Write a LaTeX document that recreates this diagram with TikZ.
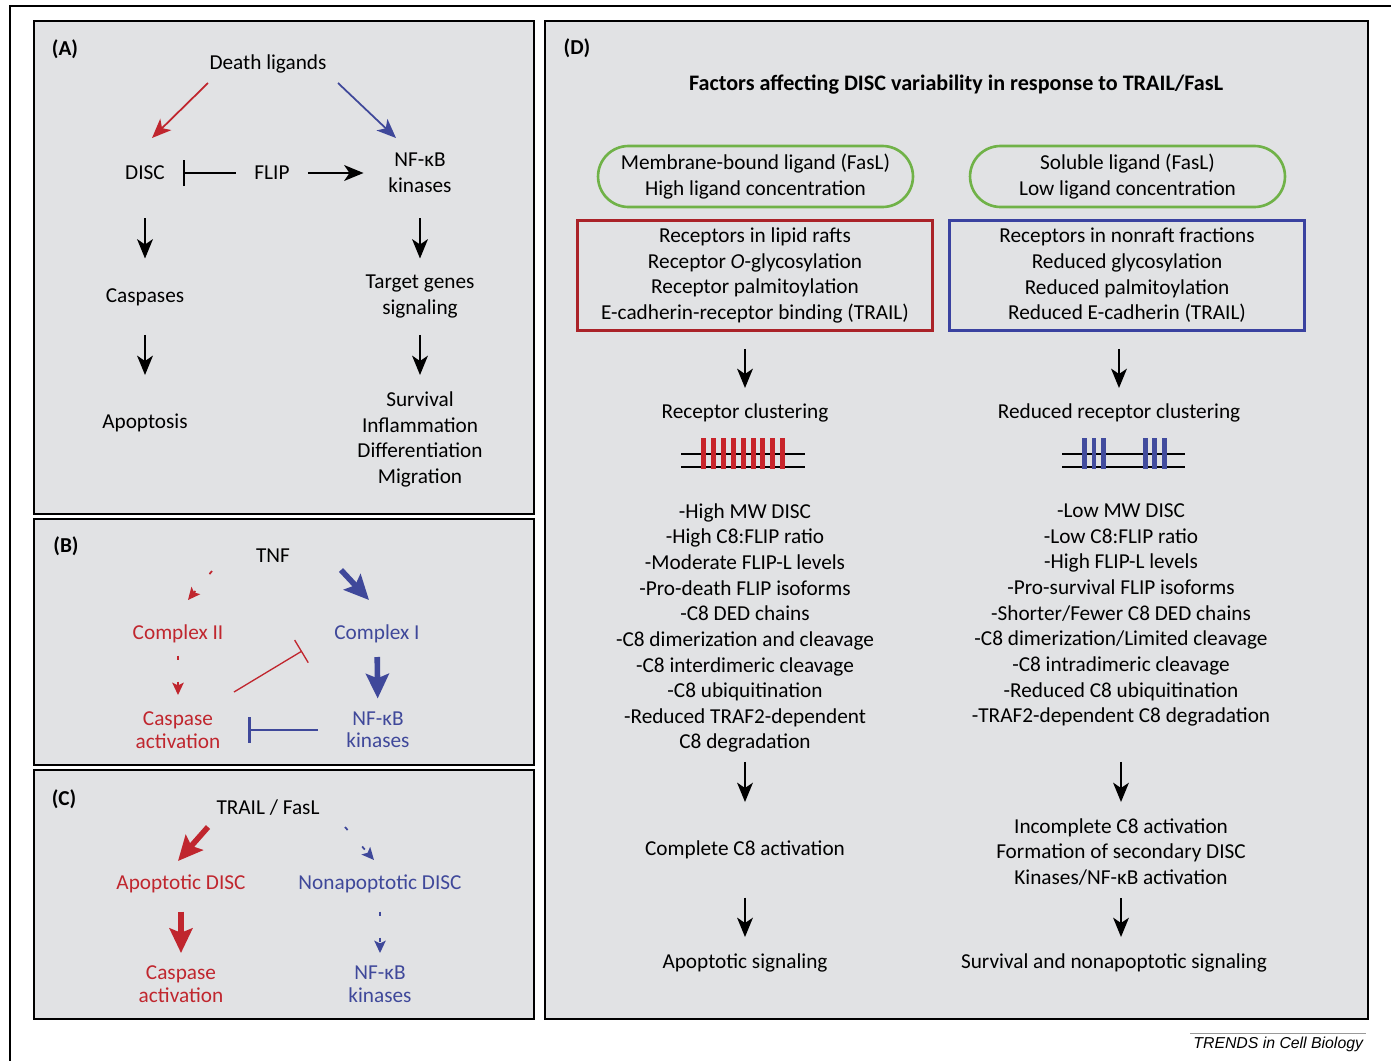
\documentclass[tikz,border=0pt]{standalone}
\usepackage{fontspec}
\setmainfont{Carlito}
\newfontfamily\creditfont{Liberation Sans}
\usetikzlibrary{arrows.meta,shapes.misc}
\definecolor{panelgray}{RGB}{225,226,228}
\definecolor{sigred}{RGB}{192,38,46}
\definecolor{sigblue}{RGB}{63,72,154}
\definecolor{boxred}{RGB}{170,34,40}
\definecolor{boxblue}{RGB}{58,66,160}
\definecolor{barred}{RGB}{200,36,42}
\definecolor{barblue}{RGB}{66,76,158}
\definecolor{liggreen}{RGB}{112,178,72}

\begin{document}
\begin{tikzpicture}[x=0.02cm,y=-0.02cm]
\tikzset{
  labelnode/.style={align=center,inner sep=0pt,font=\fontsize{12.1}{14.6}\selectfont},
  tightnode/.style={labelnode,font=\fontsize{12.1}{12.8}\selectfont},
  tagnode/.style={labelnode,font=\fontsize{12.1}{14.6}\selectfont\bfseries},
  titlenode/.style={labelnode,font=\fontsize{12.6}{14.6}\selectfont\bfseries},
  creditnode/.style={inner sep=1.5pt,font=\creditfont\itshape\fontsize{9}{10}\selectfont},
  panelbox/.style={draw=black,line width=1.6pt,fill=panelgray},
  factorbox/.style={labelnode,draw,line width=1.5pt,minimum width=7.1cm,minimum height=2.2cm},
  ligandbox/.style={labelnode,rounded rectangle,draw=liggreen,line width=1.5pt,minimum width=6.3cm,minimum height=1.22cm},
  graphedge/.style={draw,line width=1pt,line cap=butt},
  directed/.style={graphedge,-{Stealth[length=11pt,width=9pt,inset=3pt]}},
  bigdirected/.style={draw,line width=3.2pt,-{Stealth[length=14pt,width=13pt,inset=2.5pt]}},
  weakdirected/.style={graphedge,dash pattern=on 0.08cm off 0.44cm,-{Stealth[length=7pt,width=6.5pt,inset=1.5pt]}},
  inhibits/.style={draw,-{Bar[width=15pt]}},
  clearance/.style 2 args={shorten <=#1,shorten >=#2}
}
\useasboundingbox (0,0) rectangle (1391,1061);
\draw[line width=0.7pt] (1391,6) -- (10,6) -- (10,1061);
\draw[panelbox] (34,21) rectangle (534,514);
\draw[panelbox] (34,519) rectangle (534,765);
\draw[panelbox] (34,770) rectangle (534,1019);
\draw[panelbox] (545,21) rectangle (1368,1019);

% (A)
\node[tagnode] (n_tagA) at (65,49) {(A)};
\node[labelnode] (n_death) at (268,64) {Death ligands};
\node[labelnode] (n_disc) at (145,173) {DISC};
\node[labelnode] (n_flip) at (272,173) {FLIP};
\node[labelnode] (n_nfA) at (420,173) {NF-κB\\kinases};
\node[labelnode] (n_casp) at (145,297) {Caspases};
\node[labelnode] (n_apop) at (145,423) {Apoptosis};
\node[labelnode] (n_genes) at (420,296.5) {Target genes\\signaling};
\node[labelnode] (n_fates) at (420,439.5) {Survival\\Inflammation\\Differentiation\\Migration};
\draw[directed,draw=sigred] ([shift={(-60,19)}]n_death.center) -- ([shift={(7,-35)}]n_disc.center);
\draw[directed,draw=sigblue] ([shift={(70,19)}]n_death.center) -- ([shift={(-24,-35)}]n_nfA.center);
\draw[inhibits,line width=1.1pt,clearance={0.73cm}{0.76cm}] (n_flip.center) -- (n_disc.center);
\draw[directed,clearance={0.72cm}{1.13cm}] (n_flip.center) -- (n_nfA.center);
\draw[directed,clearance={0.91cm}{0.77cm}] (n_disc.center) -- (n_casp.center);
\draw[directed,clearance={0.76cm}{0.96cm}] (n_casp.center) -- (n_apop.center);
\draw[directed,clearance={0.91cm}{0.76cm}] (n_nfA.center) -- (n_genes.center);
\draw[directed,clearance={0.77cm}{1.29cm}] (n_genes.center) -- (n_fates.center);

% (B)
\node[tagnode] (n_tagB) at (66,546) {(B)};
\node[labelnode] (n_tnf) at (273,556) {TNF};
\node[labelnode,text=sigred] (n_cplx2) at (178,634) {Complex II};
\node[labelnode,text=sigblue] (n_cplx1) at (377,634) {Complex I};
\node[tightnode,text=sigred] (n_caspB) at (178,730) {Caspase\\activation};
\node[tightnode,text=sigblue] (n_nfB) at (378,730) {NF-κB\\kinases};
\draw[weakdirected,draw=sigred] ([shift={(-61,15)}]n_tnf.center) -- ([shift={(10,-34)}]n_cplx2.center);
\draw[bigdirected,draw=sigblue] ([shift={(68,14)}]n_tnf.center) -- ([shift={(-8,-34)}]n_cplx1.center);
\draw[weakdirected,draw=sigred,clearance={0.43cm}{0.7cm}] (n_cplx2.center) -- (n_caspB.center);
\draw[bigdirected,draw=sigblue,clearance={0.46cm}{0.63cm}] (n_cplx1.center) -- (n_nfB.center);
\draw[inhibits,draw=sigred,line width=0.75pt] ([shift={(56,-38)}]n_caspB.center) -- ([shift={(-75,17)}]n_cplx1.center);
\draw[inhibits,draw=sigblue,line width=1.5pt,-{Bar[width=14.7pt]},clearance={1.21cm}{1.4cm}] (n_nfB.center) -- (n_caspB.center);

% (C)
\node[tagnode] (n_tagC) at (64,799) {(C)};
\node[labelnode] (n_trail) at (268,808) {TRAIL / FasL};
\node[labelnode,text=sigred] (n_apoDisc) at (181,884) {Apoptotic DISC};
\node[labelnode,text=sigblue] (n_nonDisc) at (380,884) {Nonapoptotic DISC};
\node[tightnode,text=sigred] (n_caspC) at (181,984) {Caspase\\activation};
\node[tightnode,text=sigblue] (n_nfC) at (380,984) {NF-κB\\kinases};
\draw[bigdirected,draw=sigred] ([shift={(-60,19)}]n_trail.center) -- ([shift={(-3,-23)}]n_apoDisc.center);
\draw[weakdirected,draw=sigblue] ([shift={(77,19)}]n_trail.center) -- ([shift={(-6,-24)}]n_nonDisc.center);
\draw[bigdirected,draw=sigred,clearance={0.55cm}{0.62cm}] (n_apoDisc.center) -- (n_caspC.center);
\draw[weakdirected,draw=sigblue,clearance={0.55cm}{0.62cm}] (n_nonDisc.center) -- (n_nfC.center);

% (D)
\node[tagnode] (n_tagD) at (577,48) {(D)};
\node[titlenode] (n_title) at (956,85) {Factors affecting DISC variability in response to TRAIL/FasL};
\node[ligandbox] (n_ligMem) at (755.5,176.5) {Membrane-bound ligand (FasL)\\High ligand concentration};
\node[ligandbox] (n_ligSol) at (1127.5,176.5) {Soluble ligand (FasL)\\Low ligand concentration};
\node[factorbox,draw=boxred] (n_rafts) at (755,275.5) {Receptors in lipid rafts\\Receptor \textit{O}-glycosylation\\Receptor palmitoylation\\E-cadherin-receptor binding (TRAIL)};
\node[factorbox,draw=boxblue] (n_nonraft) at (1127,275.5) {Receptors in nonraft fractions\\Reduced glycosylation\\Reduced palmitoylation\\Reduced E-cadherin (TRAIL)};
\node[labelnode] (n_clusHi) at (745,413) {Receptor clustering};
\node[labelnode] (n_clusLo) at (1119,413) {Reduced receptor clustering};
\node[labelnode] (n_featHi) at (745,628) {-High MW DISC\\-High C8:FLIP ratio\\-Moderate FLIP-L levels\\-Pro-death FLIP isoforms\\-C8 DED chains\\-C8 dimerization and cleavage\\-C8 interdimeric cleavage\\-C8 ubiquitination\\-Reduced TRAF2-dependent\\C8 degradation};
\node[labelnode] (n_featLo) at (1121,615) {-Low MW DISC\\-Low C8:FLIP ratio\\-High FLIP-L levels\\-Pro-survival FLIP isoforms\\-Shorter/Fewer C8 DED chains\\-C8 dimerization/Limited cleavage\\-C8 intradimeric cleavage\\-Reduced C8 ubiquitination\\-TRAF2-dependent C8 degradation};
\node[labelnode] (n_fullC8) at (745,850) {Complete C8 activation};
\node[labelnode] (n_partC8) at (1121,852) {Incomplete C8 activation\\Formation of secondary DISC\\Kinases/NF-κB activation};
\node[labelnode] (n_apoSig) at (745,963) {Apoptotic signaling};
\node[labelnode] (n_surSig) at (1114,963) {Survival and nonapoptotic signaling};
\draw[directed,clearance={0.34cm}{0.5cm}] (n_rafts.south -| n_clusHi.center) -- (n_clusHi.center);
\draw[directed,clearance={0.34cm}{0.5cm}] (n_nonraft.south -| n_clusLo.center) -- (n_clusLo.center);
\draw[directed,clearance={2.68cm}{0.96cm}] (n_featHi.center) -- (n_fullC8.center);
\draw[directed,clearance={2.94cm}{1.0cm}] (n_featLo.center) -- (n_partC8.center);
\draw[directed,clearance={0.95cm}{0.52cm}] (n_fullC8.center) -- (n_apoSig.center);
\draw[directed,clearance={0.92cm}{0.52cm}] (n_partC8.center) -- (n_partC8.center |- n_surSig.center);
% clustering sketches
\draw[line width=1.2pt] (681,454) -- (805,454) (681,467) -- (805,467);
\foreach \bx in {0,...,8}
  \fill[barred] (701+9.9*\bx,438) rectangle ++(5,31);
\draw[line width=1.2pt] (1062,454) -- (1185,454) (1062,467) -- (1185,467);
\foreach \bx in {1084.3,1093.9,1103.4,1145.2,1154.7,1164.3}
  \fill[barblue] (\bx-2.4,438) rectangle ++(4.8,31);

\node[creditnode,anchor=base east] (n_credit) at (1366,1048) {TRENDS in Cell Biology};
\draw[draw=gray!80,line width=1pt] (n_credit.north west) -- (n_credit.north east);
\end{tikzpicture}
\end{document}
